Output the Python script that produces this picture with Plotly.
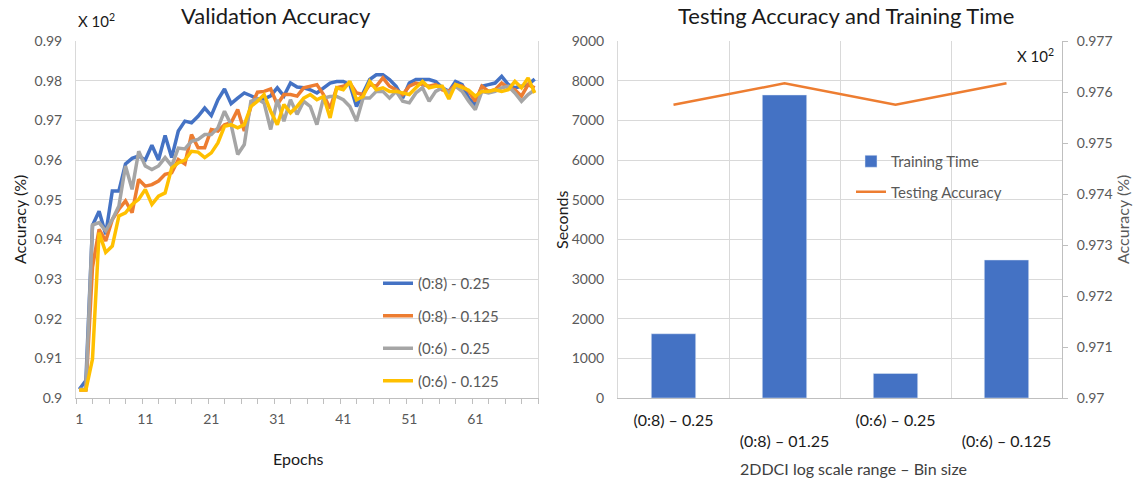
import plotly.graph_objects as go

W, H = 1139, 481

# ---- Validation accuracy per epoch -------------------------------------
epochs = list(range(1, 71))

acc_08_025 = [
    0.9022, 0.9044, 0.9435, 0.9471, 0.9413, 0.9522, 0.9522, 0.9590, 0.9604, 0.9610,
    0.9600, 0.9637, 0.9600, 0.9662, 0.9606, 0.9673, 0.9698, 0.9694, 0.9710, 0.9731,
    0.9712, 0.9752, 0.9779, 0.9742, 0.9756, 0.9769, 0.9762, 0.9754, 0.9754, 0.9762,
    0.9782, 0.9761, 0.9794, 0.9784, 0.9782, 0.9777, 0.9769, 0.9782, 0.9794, 0.9798,
    0.9798, 0.9790, 0.9735, 0.9769, 0.9803, 0.9815, 0.9815, 0.9803, 0.9786, 0.9756,
    0.9794, 0.9803, 0.9803, 0.9803, 0.9798, 0.9782, 0.9773, 0.9798, 0.9790, 0.9756,
    0.9740, 0.9786, 0.9790, 0.9794, 0.9811, 0.9790, 0.9782, 0.9786, 0.9790, 0.9804,
]

acc_08_0125 = [
    0.9020, 0.9020, 0.9330, 0.9425, 0.9396, 0.9450, 0.9476, 0.9497, 0.9467, 0.9551,
    0.9534, 0.9538, 0.9547, 0.9564, 0.9568, 0.9601, 0.9590, 0.9664, 0.9631, 0.9631,
    0.9677, 0.9673, 0.9689, 0.9694, 0.9727, 0.9673, 0.9735, 0.9771, 0.9773, 0.9779,
    0.9740, 0.9765, 0.9765, 0.9761, 0.9782, 0.9786, 0.9790, 0.9765, 0.9730, 0.9782,
    0.9786, 0.9794, 0.9769, 0.9765, 0.9790, 0.9786, 0.9807, 0.9786, 0.9777, 0.9765,
    0.9786, 0.9794, 0.9790, 0.9786, 0.9790, 0.9777, 0.9773, 0.9790, 0.9786, 0.9773,
    0.9748, 0.9786, 0.9773, 0.9777, 0.9794, 0.9782, 0.9777, 0.9761, 0.9790, 0.9782,
]

acc_06_025 = [
    0.9022, 0.9022, 0.9436, 0.9442, 0.9421, 0.9450, 0.9484, 0.9585, 0.9526, 0.9622,
    0.9585, 0.9576, 0.9585, 0.9606, 0.9585, 0.9630, 0.9628, 0.9647, 0.9652, 0.9664,
    0.9664, 0.9681, 0.9723, 0.9689, 0.9614, 0.9639, 0.9748, 0.9754, 0.9744, 0.9677,
    0.9752, 0.9698, 0.9752, 0.9715, 0.9748, 0.9735, 0.9689, 0.9756, 0.9760, 0.9760,
    0.9752, 0.9735, 0.9698, 0.9756, 0.9756, 0.9773, 0.9773, 0.9756, 0.9773, 0.9748,
    0.9744, 0.9769, 0.9782, 0.9748, 0.9773, 0.9782, 0.9769, 0.9786, 0.9773, 0.9748,
    0.9727, 0.9773, 0.9769, 0.9773, 0.9782, 0.9786, 0.9769, 0.9748, 0.9765, 0.9777,
]

acc_06_0125 = [
    0.9020, 0.9020, 0.9098, 0.9417, 0.9367, 0.9383, 0.9459, 0.9467, 0.9488, 0.9501,
    0.9526, 0.9488, 0.9509, 0.9517, 0.9580, 0.9593, 0.9600, 0.9622, 0.9620, 0.9606,
    0.9618, 0.9643, 0.9685, 0.9689, 0.9681, 0.9689, 0.9735, 0.9748, 0.9765, 0.9723,
    0.9689, 0.9740, 0.9719, 0.9735, 0.9756, 0.9765, 0.9752, 0.9760, 0.9706, 0.9782,
    0.9777, 0.9798, 0.9752, 0.9760, 0.9798, 0.9777, 0.9782, 0.9773, 0.9773, 0.9769,
    0.9765, 0.9782, 0.9798, 0.9782, 0.9786, 0.9786, 0.9754, 0.9790, 0.9782, 0.9776,
    0.9761, 0.9773, 0.9773, 0.9777, 0.9773, 0.9777, 0.9798, 0.9782, 0.9807, 0.9769,
]

series_names = ["(0:8) - 0.25", "(0:8) - 0.125", "(0:6) - 0.25", "(0:6) - 0.125"]
series_colors = ["#4472C4", "#ED7D31", "#A5A5A5", "#FFC000"]

# ---- Testing accuracy and training time per configuration ---------------
bin_configs = ["(0:8) – 0.25", "(0:8) – 01.25", "(0:6) – 0.25", "(0:6) – 0.125"]
training_time = [1620, 7640, 620, 3480]
testing_accuracy = [0.97575, 0.97617, 0.97575, 0.97617]

epoch_ticks = [1, 11, 21, 31, 41, 51, 61]


def px_x(x):
    return x / W


def px_y(y):
    return 1 - y / H


TICK = "#595959"
GRID = "#d9d9d9"
AXIS = "#bfbfbf"
FONT = "Lato"

fig = go.Figure()

for name, vals, color in zip(series_names,
                             [acc_08_025, acc_08_0125, acc_06_025, acc_06_0125],
                             series_colors):
    fig.add_trace(go.Scatter(
        x=epochs, y=vals, mode="lines", name=name,
        line=dict(color=color, width=3.5),
        xaxis="x", yaxis="y", legend="legend", legendgroup=name,
    ))

fig.add_trace(go.Bar(
    x=bin_configs, y=training_time, name="Training Time",
    marker=dict(color="#4472C4"), width=0.4,
    xaxis="x2", yaxis="y2", legend="legend2", legendgroup="time",
))
fig.add_trace(go.Scatter(
    x=bin_configs, y=testing_accuracy, mode="lines", name="Testing Accuracy",
    line=dict(color="#ED7D31", width=2.5),
    xaxis="x2", yaxis="y3", legend="legend2", legendgroup="acc",
))

ydom = [px_y(398), px_y(41)]

# staggered category labels: every second one drops to a second row
cat_text = [c if i % 2 == 0 else "<br>" + c for i, c in enumerate(bin_configs)]

fig.update_layout(
    width=W, height=H,
    margin=dict(l=0, r=0, t=0, b=0, pad=0, autoexpand=False),
    paper_bgcolor="white", plot_bgcolor="white",
    font=dict(family=FONT, size=14, color=TICK),
    xaxis=dict(
        domain=[px_x(76), px_x(538)], range=[0.5, 70.5],
        tickvals=epoch_ticks, ticks="", showgrid=False, zeroline=False,
        showline=True, linecolor=AXIS, linewidth=1, automargin=False,
        tickfont=dict(size=14, color=TICK), ticklabelstandoff=8,
        minor=dict(tick0=0.5, dtick=2.5, ticks="outside", ticklen=5,
                   tickcolor=AXIS, showgrid=False),
        anchor="y",
    ),
    yaxis=dict(
        domain=ydom, range=[0.9, 0.99], dtick=0.01, tick0=0.9,
        gridcolor=GRID, zeroline=False, showline=True, linecolor=GRID,
        mirror=True, ticks="", tickfont=dict(size=14, color=TICK),
        ticklabelstandoff=10, anchor="x", automargin=False,
    ),
    xaxis2=dict(
        domain=[px_x(618), px_x(1062)], type="category",
        tickvals=bin_configs, ticktext=cat_text, tickson="boundaries",
        showgrid=True, gridcolor=GRID, ticks="", zeroline=False,
        showline=True, linecolor=AXIS, linewidth=1, automargin=False,
        tickfont=dict(size=16, color="#1a1a1a"), ticklabelstandoff=8,
        tickangle=0, anchor="y2",
    ),
    yaxis2=dict(
        domain=ydom, range=[0, 9000], dtick=1000,
        gridcolor=GRID, zeroline=False, showline=True, linecolor=GRID,
        ticks="", tickfont=dict(size=14, color=TICK), automargin=False,
        ticklabelstandoff=10, anchor="x2",
    ),
    yaxis3=dict(
        overlaying="y2", side="right", anchor="x2",
        range=[0.97, 0.977], dtick=0.001, tick0=0.97,
        showgrid=False, zeroline=False, showline=True, linecolor=AXIS,
        ticks="outside", ticklen=5, tickcolor=AXIS, automargin=False,
        tickfont=dict(size=14, color=TICK), ticklabelstandoff=6,
    ),
    legend=dict(
        x=px_x(378), y=px_y(267), xanchor="left", yanchor="top",
        bgcolor="rgba(0,0,0,0)", font=dict(size=15, color=TICK),
        tracegroupgap=10,
    ),
    legend2=dict(
        x=px_x(851), y=px_y(145), xanchor="left", yanchor="top",
        bgcolor="rgba(0,0,0,0)", font=dict(size=15, color=TICK),
        tracegroupgap=8,
    ),
    showlegend=True,
)

annotations = [
    dict(text="Validation Accuracy", x=px_x(276), y=px_y(15),
         font=dict(size=22, color="#1a1a1a")),
    dict(text="Testing Accuracy and Training Time", x=px_x(846), y=px_y(15),
         font=dict(size=22, color="#1a1a1a")),
    dict(text="X 10<sup>2</sup>", x=px_x(76), y=px_y(20), xanchor="left",
         font=dict(size=15, color="#1a1a1a")),
    dict(text="X 10<sup>2</sup>", x=px_x(1056), y=px_y(55), xanchor="right",
         font=dict(size=15, color="#1a1a1a")),
    dict(text="Accuracy (%)", x=px_x(19), y=px_y(220), textangle=-90,
         font=dict(size=16, color="#1a1a1a")),
    dict(text="Epochs", x=px_x(298), y=px_y(458),
         font=dict(size=16, color="#1a1a1a")),
    dict(text="Seconds", x=px_x(561), y=px_y(220), textangle=-90,
         font=dict(size=16, color="#1a1a1a")),
    dict(text="Accuracy (%)", x=px_x(1122), y=px_y(220), textangle=-90,
         font=dict(size=16, color=TICK)),
    dict(text="2DDCI log scale range – Bin size", x=px_x(853), y=px_y(468),
         font=dict(size=16, color="#404040")),
]
for a in annotations:
    a.setdefault("xanchor", "center")
    a.update(xref="paper", yref="paper", yanchor="middle", showarrow=False)
fig.update_layout(annotations=annotations)

fig.write_html("out.html")
